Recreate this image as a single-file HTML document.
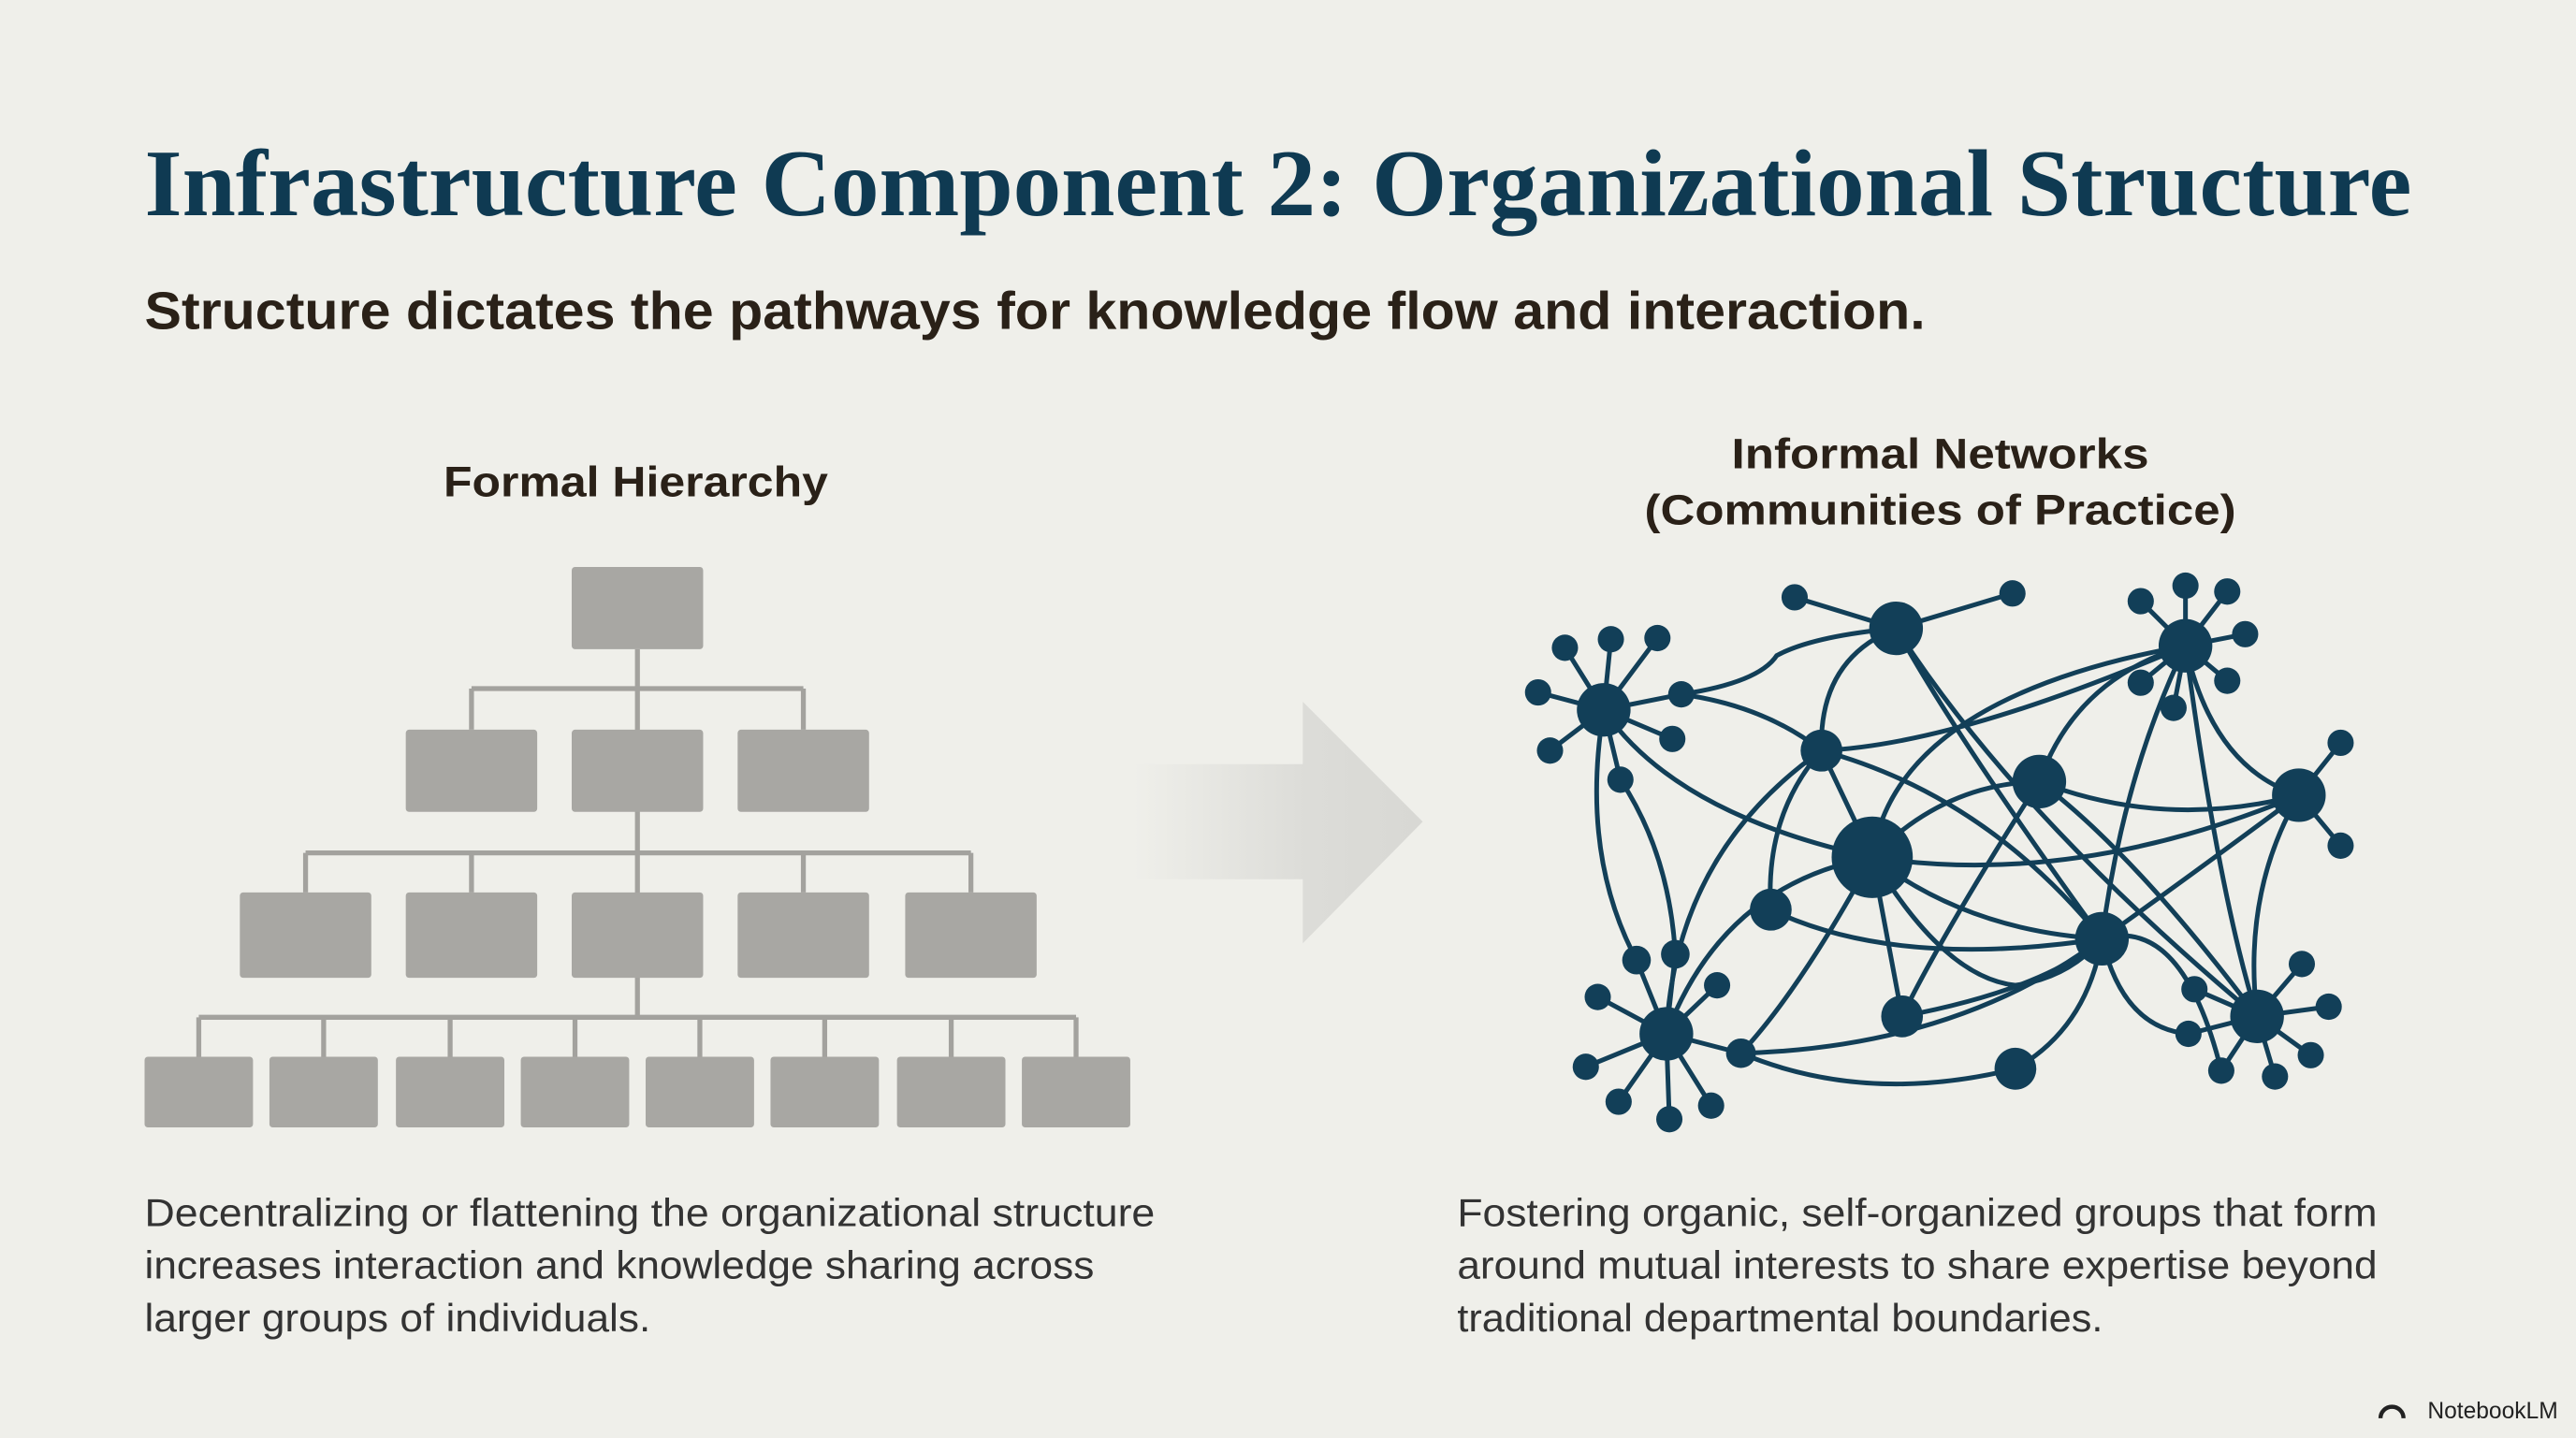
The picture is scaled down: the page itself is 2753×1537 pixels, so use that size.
<!DOCTYPE html>
<html><head><meta charset="utf-8"><style>
html,body{margin:0;padding:0;background:#efefea;}
svg{display:block;}
</style></head><body>
<svg width="2753" height="1537" viewBox="0 0 1568 875" preserveAspectRatio="none" xmlns="http://www.w3.org/2000/svg">
<defs>
<linearGradient id="ag" x1="0" x2="1" y1="0" y2="0">
<stop offset="0" stop-color="#efefea"/><stop offset="0.6" stop-color="#dcdcd8"/><stop offset="1" stop-color="#d8d8d4"/>
</linearGradient>
</defs>
<rect width="1568" height="875" fill="#efefea"/>
<text x="88" y="131" font-family="Liberation Serif, serif" font-weight="bold" font-size="58" fill="#0f3a52" textLength="1380" lengthAdjust="spacingAndGlyphs">Infrastructure Component 2: Organizational Structure</text>
<text x="88" y="200" font-family="Liberation Sans, sans-serif" font-weight="bold" font-size="32" fill="#2a2118" textLength="1084" lengthAdjust="spacingAndGlyphs">Structure dictates the pathways for knowledge flow and interaction.</text>
<g font-family="Liberation Sans, sans-serif" font-weight="bold" font-size="26" fill="#2a2118" text-anchor="middle">
<text x="387" y="302" textLength="234" lengthAdjust="spacingAndGlyphs">Formal Hierarchy</text>
<text x="1181" y="285" textLength="254" lengthAdjust="spacingAndGlyphs">Informal Networks</text>
<text x="1181" y="319" textLength="360" lengthAdjust="spacingAndGlyphs">(Communities of Practice)</text>
</g>
<g font-family="Liberation Sans, sans-serif" font-size="24" fill="#333">
<text x="88" y="746" textLength="615" lengthAdjust="spacingAndGlyphs">Decentralizing or flattening the organizational structure</text>
<text x="88" y="778" textLength="578" lengthAdjust="spacingAndGlyphs">increases interaction and knowledge sharing across</text>
<text x="88" y="810" textLength="308" lengthAdjust="spacingAndGlyphs">larger groups of individuals.</text>
<text x="887" y="746" textLength="560" lengthAdjust="spacingAndGlyphs">Fostering organic, self-organized groups that form</text>
<text x="887" y="778" textLength="560" lengthAdjust="spacingAndGlyphs">around mutual interests to share expertise beyond</text>
<text x="887" y="810" textLength="393" lengthAdjust="spacingAndGlyphs">traditional departmental boundaries.</text>
</g>
<text x="1557" y="863" text-anchor="end" font-family="Liberation Sans, sans-serif" font-size="14" fill="#222">NotebookLM</text>
<path d="M1449 863 a7 7 0 0 1 14 0" fill="none" stroke="#222" stroke-width="2.5"/>
<g stroke="#a3a29e" stroke-width="3" fill="none">
<path d="M388 395V619M287 419H489M287 419V444M489 419V444M186 519H591M186 519V543M287 519V543M489 519V543M591 519V543M121 619H655M121 619V643M197 619V643M274 619V643M350 619V643M426 619V643M502 619V643M579 619V643M655 619V643"/>
</g>
<g fill="#a8a7a3">
<rect x="348" y="345" width="80" height="50" rx="2"/>
<rect x="247" y="444" width="80" height="50" rx="2"/><rect x="348" y="444" width="80" height="50" rx="2"/><rect x="449" y="444" width="80" height="50" rx="2"/>
<rect x="146" y="543" width="80" height="52" rx="2"/><rect x="247" y="543" width="80" height="52" rx="2"/><rect x="348" y="543" width="80" height="52" rx="2"/><rect x="449" y="543" width="80" height="52" rx="2"/><rect x="551" y="543" width="80" height="52" rx="2"/>
<rect x="88" y="643" width="66" height="43" rx="2"/><rect x="164" y="643" width="66" height="43" rx="2"/><rect x="241" y="643" width="66" height="43" rx="2"/><rect x="317" y="643" width="66" height="43" rx="2"/><rect x="393" y="643" width="66" height="43" rx="2"/><rect x="469" y="643" width="66" height="43" rx="2"/><rect x="546" y="643" width="66" height="43" rx="2"/><rect x="622" y="643" width="66" height="43" rx="2"/>
</g>
<path d="M690 465H793V427L866 500L793 574V535H690Z" fill="url(#ag)"/>
<g transform="translate(899.9,330.4) scale(0.3632,0.2361)">
<g stroke="#123f58" stroke-width="5" vector-effect="non-scaling-stroke" fill="none" stroke-linecap="round">
<path vector-effect="non-scaling-stroke" d="M210 430L145 270M210 430L222 248M210 430L300 245M210 430L100 385M210 430L120 535M210 430L325 505M210 430L340 390M210 430L238 610"/>
<path vector-effect="non-scaling-stroke" d="M700 220L530 140M700 220L895 130"/>
<path vector-effect="non-scaling-stroke" d="M1185 265L1110 150M1185 265L1185 110M1185 265L1255 125M1185 265L1285 235M1185 265L1255 355M1185 265L1165 425M1185 265L1110 360"/>
<path vector-effect="non-scaling-stroke" d="M1375 650L1445 515M1375 650L1445 780"/>
<path vector-effect="non-scaling-stroke" d="M315 1265L200 1170M315 1265L400 1140M315 1265L180 1350M315 1265L235 1440M315 1265L320 1485M315 1265L390 1450M315 1265L440 1315M315 1265L265 1075M315 1265L330 1060"/>
<path vector-effect="non-scaling-stroke" d="M1305 1220L1200 1150M1305 1220L1380 1085M1305 1220L1425 1195M1305 1220L1395 1320M1305 1220L1335 1375M1305 1220L1245 1360M1305 1220L1190 1265"/>
<path vector-effect="non-scaling-stroke" d="M340 390Q470 360 500 290Q560 240 700 220"/>
<path vector-effect="non-scaling-stroke" d="M340 390Q480 420 575 535"/>
<path vector-effect="non-scaling-stroke" d="M210 430Q330 700 660 810"/>
<path vector-effect="non-scaling-stroke" d="M238 610Q320 800 330 1060"/>
<path vector-effect="non-scaling-stroke" d="M210 430Q170 800 265 1075"/>
<path vector-effect="non-scaling-stroke" d="M700 220Q570 300 575 535"/>
<path vector-effect="non-scaling-stroke" d="M700 220Q800 500 1045 1020"/>
<path vector-effect="non-scaling-stroke" d="M575 535Q330 800 315 1265"/>
<path vector-effect="non-scaling-stroke" d="M575 535Q480 700 490 945"/>
<path vector-effect="non-scaling-stroke" d="M575 535L660 810"/>
<path vector-effect="non-scaling-stroke" d="M575 535Q850 650 1045 1020"/>
<path vector-effect="non-scaling-stroke" d="M575 535Q800 520 1185 265"/>
<path vector-effect="non-scaling-stroke" d="M660 810Q700 400 1185 265"/>
<path vector-effect="non-scaling-stroke" d="M1185 265Q1000 350 940 615"/>
<path vector-effect="non-scaling-stroke" d="M1185 265Q1080 600 1045 1020"/>
<path vector-effect="non-scaling-stroke" d="M1185 265Q1240 900 1305 1220"/>
<path vector-effect="non-scaling-stroke" d="M1185 265Q1230 580 1375 650"/>
<path vector-effect="non-scaling-stroke" d="M660 810Q780 620 940 615"/>
<path vector-effect="non-scaling-stroke" d="M940 615Q1150 740 1375 650"/>
<path vector-effect="non-scaling-stroke" d="M940 615Q1100 800 1305 1220"/>
<path vector-effect="non-scaling-stroke" d="M940 615Q780 1000 710 1220"/>
<path vector-effect="non-scaling-stroke" d="M660 810Q1000 890 1375 650"/>
<path vector-effect="non-scaling-stroke" d="M660 810Q410 880 315 1265"/>
<path vector-effect="non-scaling-stroke" d="M660 810Q540 1150 440 1315"/>
<path vector-effect="non-scaling-stroke" d="M660 810L710 1220"/>
<path vector-effect="non-scaling-stroke" d="M660 810Q820 1000 1045 1020"/>
<path vector-effect="non-scaling-stroke" d="M660 810Q780 1120 900 1140Q990 1120 1045 1020"/>
<path vector-effect="non-scaling-stroke" d="M490 945Q700 1100 1045 1020"/>
<path vector-effect="non-scaling-stroke" d="M710 1220Q950 1150 1045 1020"/>
<path vector-effect="non-scaling-stroke" d="M440 1315Q800 1300 1045 1020"/>
<path vector-effect="non-scaling-stroke" d="M440 1315Q650 1450 900 1355"/>
<path vector-effect="non-scaling-stroke" d="M900 1355Q1020 1250 1045 1020"/>
<path vector-effect="non-scaling-stroke" d="M1045 1020Q1200 850 1375 650"/>
<path vector-effect="non-scaling-stroke" d="M1045 1020Q1180 960 1245 1360"/>
<path vector-effect="non-scaling-stroke" d="M1045 1020Q1080 1250 1190 1265"/>
<path vector-effect="non-scaling-stroke" d="M1375 650Q1280 900 1305 1220"/>
<path vector-effect="non-scaling-stroke" d="M700 220Q900 700 1305 1220"/>
</g>
<g fill="#123f58">
<ellipse cx="210" cy="430" rx="45" ry="69"/><ellipse cx="700" cy="220" rx="45" ry="69"/><ellipse cx="1185" cy="265" rx="45" ry="69"/>
<ellipse cx="575" cy="535" rx="35" ry="54"/><ellipse cx="940" cy="615" rx="45" ry="69"/><ellipse cx="1375" cy="650" rx="45" ry="69"/>
<ellipse cx="660" cy="810" rx="68" ry="105"/><ellipse cx="490" cy="945" rx="35" ry="54"/><ellipse cx="1045" cy="1020" rx="45" ry="69"/>
<ellipse cx="315" cy="1265" rx="45" ry="69"/><ellipse cx="710" cy="1220" rx="35" ry="54"/><ellipse cx="440" cy="1315" rx="25" ry="38"/>
<ellipse cx="900" cy="1355" rx="35" ry="54"/><ellipse cx="1305" cy="1220" rx="45" ry="69"/><ellipse cx="265" cy="1075" rx="24" ry="37"/>
<ellipse cx="330" cy="1060" rx="24" ry="37"/><ellipse cx="340" cy="390" rx="22" ry="34"/><ellipse cx="238" cy="610" rx="22" ry="34"/>
<ellipse cx="145" cy="270" rx="22" ry="34"/><ellipse cx="222" cy="248" rx="22" ry="34"/><ellipse cx="300" cy="245" rx="22" ry="34"/><ellipse cx="100" cy="385" rx="22" ry="34"/><ellipse cx="120" cy="535" rx="22" ry="34"/><ellipse cx="325" cy="505" rx="22" ry="34"/>
<ellipse cx="530" cy="140" rx="22" ry="34"/><ellipse cx="895" cy="130" rx="22" ry="34"/>
<ellipse cx="1110" cy="150" rx="22" ry="34"/><ellipse cx="1185" cy="110" rx="22" ry="34"/><ellipse cx="1255" cy="125" rx="22" ry="34"/><ellipse cx="1285" cy="235" rx="22" ry="34"/><ellipse cx="1255" cy="355" rx="22" ry="34"/><ellipse cx="1165" cy="425" rx="22" ry="34"/><ellipse cx="1110" cy="360" rx="22" ry="34"/>
<ellipse cx="1445" cy="515" rx="22" ry="34"/><ellipse cx="1445" cy="780" rx="22" ry="34"/>
<ellipse cx="200" cy="1170" rx="22" ry="34"/><ellipse cx="400" cy="1140" rx="22" ry="34"/><ellipse cx="180" cy="1350" rx="22" ry="34"/><ellipse cx="235" cy="1440" rx="22" ry="34"/><ellipse cx="320" cy="1485" rx="22" ry="34"/><ellipse cx="390" cy="1450" rx="22" ry="34"/>
<ellipse cx="1200" cy="1150" rx="22" ry="34"/><ellipse cx="1380" cy="1085" rx="22" ry="34"/><ellipse cx="1425" cy="1195" rx="22" ry="34"/><ellipse cx="1395" cy="1320" rx="22" ry="34"/><ellipse cx="1335" cy="1375" rx="22" ry="34"/><ellipse cx="1245" cy="1360" rx="22" ry="34"/><ellipse cx="1190" cy="1265" rx="22" ry="34"/>
</g>
</g>
</svg>
</body></html>
